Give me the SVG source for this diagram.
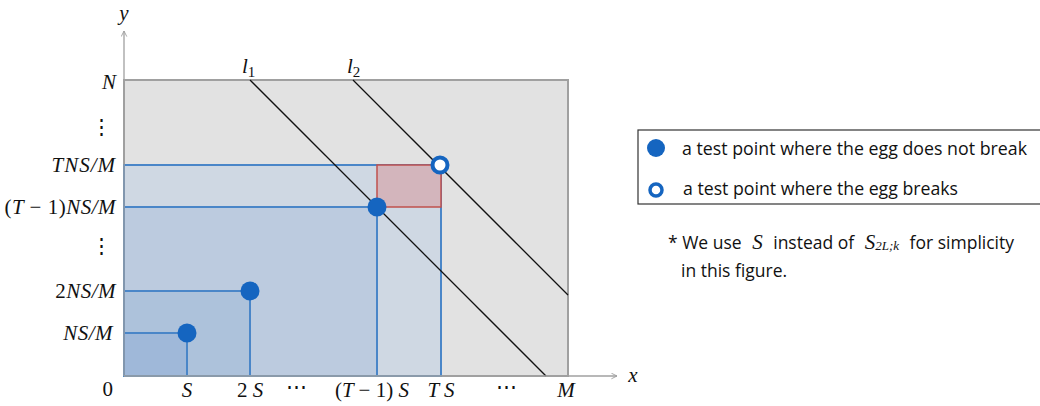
<svg xmlns="http://www.w3.org/2000/svg" width="1040" height="406" viewBox="0 0 1040 406">
<style>
.m{font-family:"Liberation Serif","DejaVu Serif",serif;font-style:italic;font-size:21px;fill:#111}
.n{font-family:"Liberation Serif","DejaVu Serif",serif;font-size:21px;fill:#111}
.t{font-family:"Open Sans","Liberation Sans",sans-serif;font-size:17.5px;fill:#111}
.blue{stroke:#4a86c8;stroke-width:2}
.axis{stroke:#a0a0a0;stroke-width:1.3;fill:none}
.dl{stroke:#111;stroke-width:1.3}
.pt{fill:#1565c0}
.op{fill:#fff;stroke:#1565c0;stroke-width:4}
.mi{font-family:"Liberation Serif","DejaVu Serif",serif;font-style:italic}
</style>
<defs>
<marker id="ar" viewBox="0 0 10 10" refX="9" refY="5" markerWidth="7" markerHeight="7" orient="auto" markerUnits="userSpaceOnUse">
<path d="M1,1 L9,5 L1,9" fill="none" stroke="#a0a0a0" stroke-width="1.3"/>
</marker>
</defs>
<rect width="1040" height="406" fill="#fff"/>
<g id="plane">
<rect x="124" y="80" width="444" height="296" fill="#e2e2e2" stroke="#a0a0a0" stroke-width="2"/>
<rect x="124" y="165" width="317" height="211" fill="#cfd8e3" class="blue"/>
<rect x="124" y="207" width="253" height="169" fill="#bccbdf" class="blue"/>
<rect x="124" y="291" width="126" height="85" fill="#adc2db" class="blue"/>
<rect x="124" y="333" width="63" height="43" fill="#9fb8d9" class="blue"/>
<rect x="377" y="165" width="64" height="42" fill="#d3b5bc" stroke="#c0504d" stroke-width="1.5"/>
</g>
<g id="connectors">
<line class="dl" x1="250" y1="80" x2="546" y2="376"/>
<line class="dl" x1="353" y1="80" x2="568" y2="295"/>
<line class="axis" x1="124" y1="376" x2="124" y2="31" marker-end="url(#ar)"/>
<line class="axis" x1="124" y1="376" x2="617" y2="376" marker-end="url(#ar)"/>
</g>
<g id="points">
<circle class="pt" cx="187" cy="333" r="9.5"/>
<circle class="pt" cx="250" cy="291" r="9.5"/>
<circle class="pt" cx="377" cy="207" r="9.5"/>
<circle class="op" cx="440" cy="165" r="7.5"/>
</g>
<g id="labels">
<text class="m" x="124" y="20" text-anchor="middle">y</text>
<text class="m" x="633" y="382" text-anchor="middle">x</text>
<text class="m" x="242" y="73">l<tspan style="font-size:15px;font-style:normal" dy="4">1</tspan></text>
<text class="m" x="347" y="73">l<tspan style="font-size:15px;font-style:normal" dy="4">2</tspan></text>
<g text-anchor="end">
<text class="m" x="116" y="89">N</text>
<text class="n" x="112" y="134">⋮</text>
<text class="m" x="116" y="172" letter-spacing="1">TNS/M</text>
<text class="m" x="116" y="214" letter-spacing="0.5"><tspan style="font-style:normal">(</tspan>T <tspan style="font-style:normal">− 1)</tspan>NS/M</text>
<text class="n" x="112" y="253">⋮</text>
<text class="m" x="116" y="298" letter-spacing="0.5"><tspan style="font-style:normal">2</tspan>NS/M</text>
<text class="m" x="113" y="340" letter-spacing="0.5">NS/M</text>
<text class="n" x="113" y="396">0</text>
</g>
<g text-anchor="middle">
<text class="m" x="187" y="397">S</text>
<text class="m" x="250" y="397"><tspan style="font-style:normal">2</tspan> S</text>
<text class="n" x="296" y="394">⋯</text>
<text class="m" x="372" y="397"><tspan style="font-style:normal">(</tspan>T <tspan style="font-style:normal">− 1)</tspan> S</text>
<text class="m" x="441" y="397">T S</text>
<text class="n" x="506" y="394">⋯</text>
<text class="m" x="566" y="397">M</text>
</g>
</g>
<g id="legend">
<rect x="638" y="130" width="405" height="74" fill="#fff" stroke="#333" stroke-width="1.2"/>
<circle class="pt" cx="656" cy="148" r="9"/>
<text class="t" x="682" y="155" textLength="345" lengthAdjust="spacingAndGlyphs">a test point where the egg does not break</text>
<circle fill="#fff" stroke="#1565c0" stroke-width="3.5" cx="656" cy="190" r="6"/>
<text class="t" x="683" y="195" textLength="275" lengthAdjust="spacingAndGlyphs">a test point where the egg breaks</text>
</g>
<g id="note">
<text class="t" x="668" y="249">* We use <tspan class="mi" style="font-size:21px" dx="6">S</tspan><tspan dx="6"> instead of </tspan><tspan class="mi" style="font-size:21px" dx="6">S</tspan><tspan class="mi" style="font-size:13px" dy="1">2L;k</tspan><tspan dy="-1" dx="6"> for simplicity</tspan></text>
<text class="t" x="681" y="277">in this figure.</text>
</g>
</svg>
